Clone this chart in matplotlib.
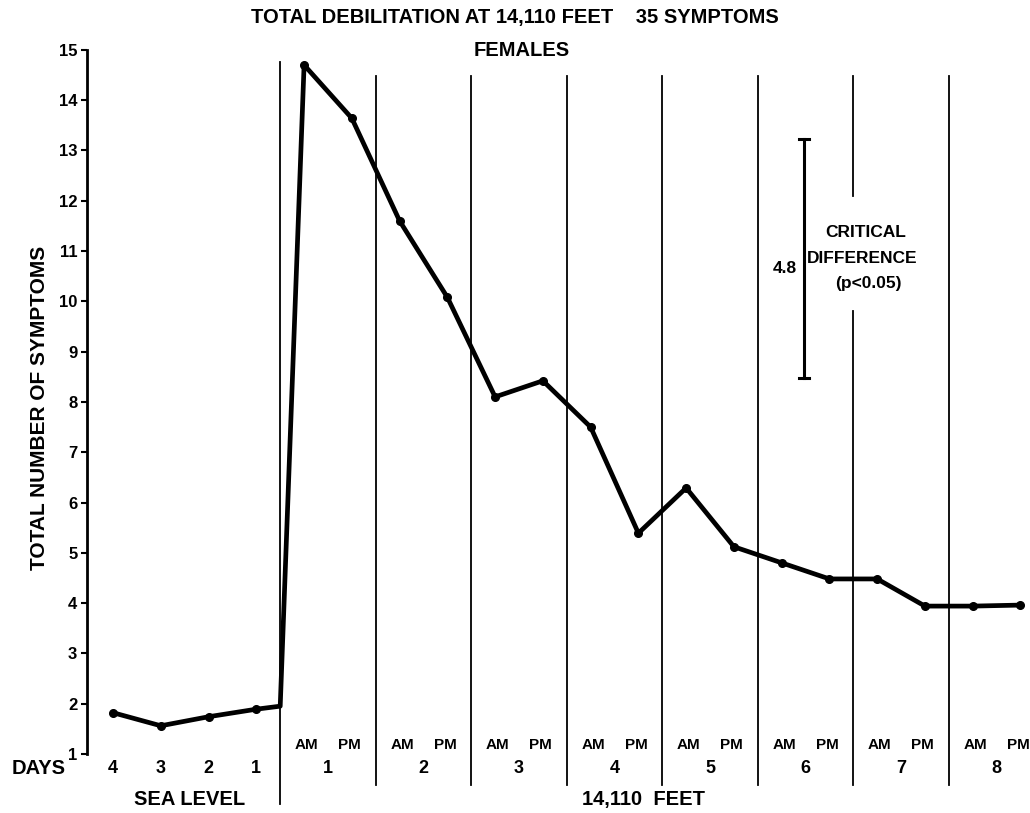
import matplotlib.pyplot as plt

# --- data ---
sea_days = ["4", "3", "2", "1"]
sea_values = [1.82, 1.56, 1.74, 1.89]
transition_value = 1.95
alt_days = ["1", "2", "3", "4", "5", "6", "7", "8"]
alt_am = [14.7, 11.6, 8.1, 7.5, 6.29, 4.8, 4.48, 3.94]
alt_pm = [13.64, 10.08, 8.42, 5.39, 5.12, 4.48, 3.94, 3.96]
critical_low, critical_high = 8.48, 13.23

# x positions: one unit per half-day slot
sea_x = [0, 1, 2, 3]
alt_x = []
alt_y = []
for i in range(len(alt_days)):
    alt_x += [4 + 2 * i, 5 + 2 * i]
    alt_y += [alt_am[i], alt_pm[i]]
dividers = [3.5 + 2 * i for i in range(len(alt_days))]

plt.rcParams["font.family"] = ["Liberation Sans", "DejaVu Sans"]
plt.rcParams["font.weight"] = "bold"

fig = plt.figure(figsize=(10.3, 8.13), dpi=100)
ax = fig.add_axes([0.0845, 0.0015, 0.9155, 0.9495])
ax.set_xlim(-0.545, 19.2)
ax.set_ylim(-0.15, 15.2)

# axis styling
for s in ["top", "right", "bottom"]:
    ax.spines[s].set_visible(False)
ax.spines["left"].set_bounds(1, 15)
ax.spines["left"].set_linewidth(2)
ax.set_yticks(range(1, 16))
ax.set_yticklabels([str(v) for v in range(1, 16)], fontsize=12, fontweight="bold")
ax.tick_params(axis="y", direction="out", length=4, width=1.5, pad=3)
ax.set_xticks([])
fig.text(40 / 1030, 1 - 408 / 813, "TOTAL NUMBER OF SYMPTOMS", rotation=90,
         ha="center", va="center", fontsize=15, fontweight="bold")

# vertical dividers
ax.plot([dividers[0]] * 2, [0.0, 14.76], color="black", lw=1.3, clip_on=False)
for d in dividers[1:]:
    if d == 15.5:
        # broken around the critical difference note
        ax.plot([d, d], [12.1, 14.48], color="black", lw=1.3)
        ax.plot([d, d], [0.38, 9.8], color="black", lw=1.3)
    else:
        ax.plot([d, d], [0.38, 14.48], color="black", lw=1.3, clip_on=False)

# data line
xs = sea_x + [3.5] + alt_x
ys = sea_values + [transition_value] + alt_y
ax.plot(xs, ys, color="black", lw=3.4, zorder=3, clip_on=False)
ax.plot(sea_x + alt_x, sea_values + alt_y, "o", color="black", ms=5.5, zorder=4, clip_on=False)

# critical difference bar
cx = 14.47
ax.plot([cx, cx], [critical_low, critical_high], color="black", lw=2.2)
for yv in (critical_low, critical_high):
    ax.plot([cx - 0.11, cx + 0.11], [yv, yv], color="black", lw=2.2)
ax.text(14.32, 10.66, "4.8", ha="right", va="center", fontsize=12.5, fontweight="bold")
ax.text(15.75, 11.36, "CRITICAL", ha="center", va="center", fontsize=12.5, fontweight="bold")
ax.text(15.69, 10.86, "DIFFERENCE", ha="center", va="center", fontsize=12.5, fontweight="bold")
ax.text(15.81, 10.36, "(p<0.05)", ha="center", va="center", fontsize=12.5, fontweight="bold")

# x labels
day_y = 0.72
ax.text(-2.115, day_y, "DAYS", ha="left", va="center", fontsize=14.5, fontweight="bold", clip_on=False)
for x, lab in zip(sea_x, sea_days):
    ax.text(x, day_y, lab, ha="center", va="center", fontsize=13, fontweight="bold")
for i, lab in enumerate(alt_days):
    c = 4.5 + 2 * i
    ax.text(c, day_y, lab, ha="center", va="center", fontsize=13, fontweight="bold")
    ax.text(c - 0.45, 1.18, "AM", ha="center", va="center", fontsize=11, fontweight="bold")
    ax.text(c + 0.45, 1.18, "PM", ha="center", va="center", fontsize=11, fontweight="bold")
ax.text(1.61, 0.085, "SEA LEVEL", ha="center", va="center", fontsize=14.5, fontweight="bold")
ax.text(11.1, 0.085, "14,110  FEET", ha="center", va="center", fontsize=14.5, fontweight="bold")

# titles
fig.text(515 / 1030, 1 - 18 / 813, "TOTAL DEBILITATION AT 14,110 FEET    35 SYMPTOMS",
         ha="center", va="center", fontsize=14.5, fontweight="bold")
fig.text(522 / 1030, 1 - 50 / 813, "FEMALES", ha="center", va="center", fontsize=14.5, fontweight="bold")

fig.savefig("out.png", dpi=100)
